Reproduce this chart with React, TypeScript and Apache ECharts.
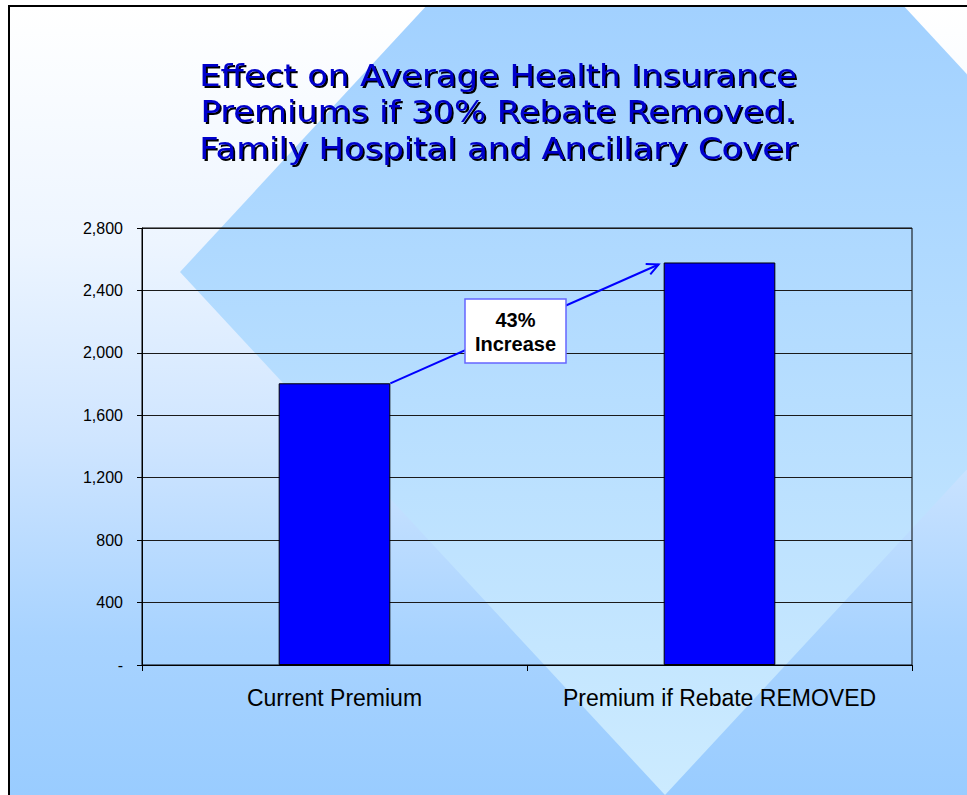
import React, { useEffect, useRef } from 'react';
import * as echarts from 'echarts';

const categories = ['Current Premium', 'Premium if Rebate REMOVED'];
const premiums = [1805, 2579];
const yMin = 0;
const yMax = 2800;
const yStep = 400;
const titleLines = [
  'Effect on Average Health Insurance',
  'Premiums if 30% Rebate Removed.',
  'Family Hospital and Ancillary Cover',
];
const annotationLines = ['43%', 'Increase'];

const W = 967;
const H = 795;
const AXIS_FONT = "'Liberation Sans', Arial, Helvetica, sans-serif";

export default function App() {
  const ref = useRef<HTMLDivElement>(null);

  useEffect(() => {
    if (!ref.current) return;
    const chart = echarts.init(ref.current, undefined, { renderer: 'svg', width: W, height: H });

    const gridLeft = 142;
    const gridTop = 228;
    const gridRight = 55;
    const gridBottom = 130;

    chart.setOption({
      animation: false,
      grid: {
        left: gridLeft,
        top: gridTop,
        right: gridRight,
        bottom: gridBottom,
        show: true,
        borderColor: '#000',
        borderWidth: 1,
        backgroundColor: 'transparent',
        containLabel: false,
        outerBoundsMode: 'none',
      },
      xAxis: {
        type: 'category',
        data: categories,
        axisLine: { show: true, lineStyle: { color: '#000', width: 1 } },
        axisTick: { show: true, length: 6, alignWithLabel: false, lineStyle: { color: '#000' } },
        axisLabel: { fontSize: 23, color: '#000', fontFamily: AXIS_FONT, margin: 21, interval: 0 },
        splitLine: { show: false },
      },
      yAxis: {
        type: 'value',
        min: yMin,
        max: yMax,
        interval: yStep,
        axisLine: { show: true, lineStyle: { color: '#000', width: 1 } },
        axisTick: { show: true, length: 5, lineStyle: { color: '#000' } },
        axisLabel: {
          fontSize: 16,
          color: '#000',
          fontFamily: AXIS_FONT,
          margin: 19,
          formatter: (v: number) => (v === 0 ? '-' : v.toLocaleString('en-US')),
        },
        splitLine: { show: true, lineStyle: { color: '#1a1a1a', width: 1 } },
      },
      series: [
        {
          type: 'bar',
          data: premiums,
          barWidth: '29%',
          itemStyle: { color: '#0000FF', borderColor: '#000', borderWidth: 1 },
          z: 3,
        },
      ],
    });

    // positions derived from the chart's own scales
    const p0 = chart.convertToPixel({ gridIndex: 0 }, [0, premiums[0]]) as number[];
    const p1 = chart.convertToPixel({ gridIndex: 0 }, [1, premiums[1]]) as number[];
    const bandW = (W - gridLeft - gridRight) / categories.length;
    const halfBar = (bandW * 0.29) / 2;

    const sx = p0[0] + halfBar;
    const sy = p0[1];
    const ex = p1[0] - halfBar - 5;
    const ey = p1[1] + 2;
    const ang = Math.atan2(ey - sy, ex - sx);
    const headLen = 13;
    const headAng = (26 * Math.PI) / 180;
    const h1 = [ex - headLen * Math.cos(ang - headAng), ey - headLen * Math.sin(ang - headAng)];
    const h2 = [ex - headLen * Math.cos(ang + headAng), ey - headLen * Math.sin(ang + headAng)];

    const mx = (sx + ex) / 2 - 9;
    const my = (sy + ey) / 2 + 7;
    const boxW = 101;
    const boxH = 64;

    // diamond clipped at the slide top edge
    const slideTop = 7;
    const dl = [180, 272];
    const dt = [665, -252];
    const dr = [1150, 272];
    const db = [665, 795];
    const slope = (dl[1] - dt[1]) / (dt[0] - dl[0]);
    const xUL = dl[0] + (dl[1] - slideTop) / slope;
    const xUR = dt[0] + (slideTop - dt[1]) / slope;

    const titleY0 = 75;
    const titleStep = 36.5;
    const titleEls = titleLines.map((line, i) => ({
      type: 'text',
      z: 20,
      silent: true,
      x: 498,
      y: titleY0 + i * titleStep,
      scaleX: 1.09,
      style: {
        text: line,
        textAlign: 'center',
        textVerticalAlign: 'middle',
        fontFamily: "Tahoma, 'DejaVu Sans', Verdana, sans-serif",
        fontSize: 31,
        fill: '#0000CC',
        textShadowColor: 'rgba(0,0,0,1)',
        textShadowOffsetX: 2,
        textShadowOffsetY: 2,
        textShadowBlur: 1,
      },
    }));

    chart.setOption({
      graphic: [
        {
          type: 'rect',
          z: -20,
          silent: true,
          shape: { x: 9, y: 6, width: W, height: H },
          style: {
            fill: {
              type: 'linear',
              x: 0,
              y: 6,
              x2: 0,
              y2: H,
              global: true,
              colorStops: [
                { offset: 0, color: '#FFFFFF' },
                { offset: 0.3, color: '#EDF5FF' },
                { offset: 0.55, color: '#CFE5FF' },
                { offset: 0.8, color: '#A8D3FF' },
                { offset: 1, color: '#99CCFF' },
              ],
            },
          },
        },
        {
          type: 'polygon',
          z: -19,
          silent: true,
          shape: {
            points: [dl, [xUL, slideTop], [xUR, slideTop], dr, db],
          },
          style: {
            fill: {
              type: 'linear',
              x: 0,
              y: slideTop,
              x2: 0,
              y2: H,
              global: true,
              colorStops: [
                { offset: 0, color: '#A2D1FF' },
                { offset: 1, color: '#CCEBFF' },
              ],
            },
          },
        },
        {
          type: 'rect',
          z: -18,
          silent: true,
          shape: { x: 9, y: 6, width: W + 20, height: H + 20 },
          style: { fill: 'none', stroke: '#000', lineWidth: 2 },
        },
        ...titleEls,
        {
          type: 'line',
          z: 30,
          silent: true,
          shape: { x1: sx, y1: sy, x2: ex, y2: ey },
          style: { stroke: '#0000FF', lineWidth: 2 },
        },
        {
          type: 'polyline',
          z: 30,
          silent: true,
          shape: { points: [h1, [ex, ey], h2] },
          style: { stroke: '#0000FF', lineWidth: 2, fill: 'none' },
        },
        {
          type: 'rect',
          z: 31,
          silent: true,
          shape: { x: mx - boxW / 2, y: my - boxH / 2, width: boxW, height: boxH },
          style: { fill: '#FFFFFF', stroke: '#6666FF', lineWidth: 1.5 },
        },
        {
          type: 'text',
          z: 32,
          x: mx,
          y: my + 1,
          style: {
            text: annotationLines.join('\n'),
            textAlign: 'center',
            textVerticalAlign: 'middle',
            fontFamily: AXIS_FONT,
            fontWeight: 'bold',
            fontSize: 20,
            lineHeight: 24,
            fill: '#000',
          },
        },
      ],
    });

    return () => {
      chart.dispose();
    };
  }, []);

  return (
    <div
      ref={ref}
      style={{ position: 'fixed', left: 0, top: 0, width: W, height: H, background: '#fff' }}
    />
  );
}
